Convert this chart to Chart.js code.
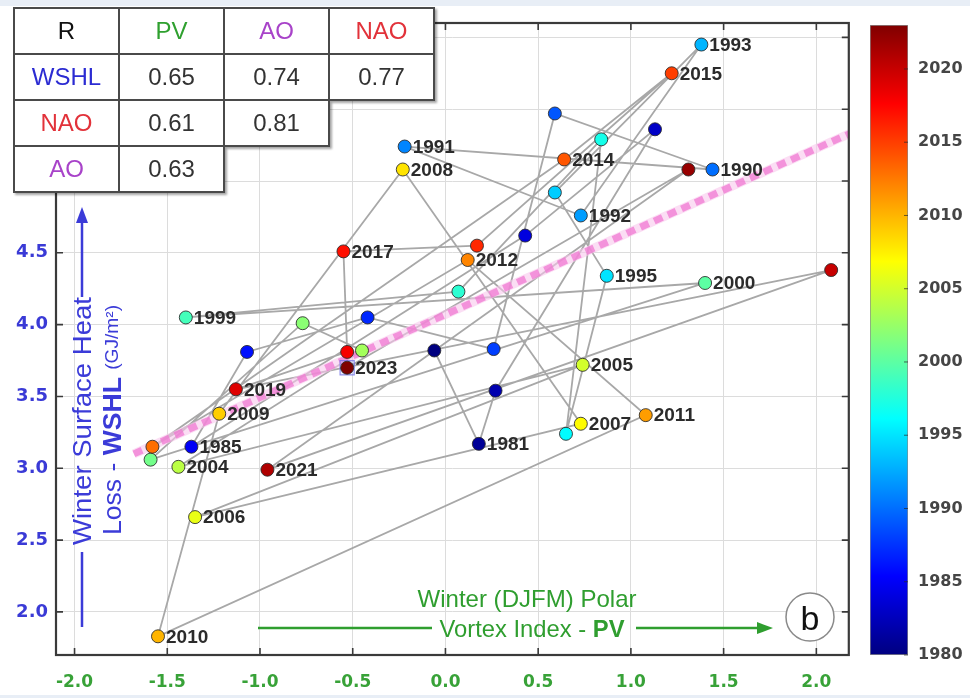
<!DOCTYPE html>
<html lang="en">
<head>
<meta charset="UTF-8">
<title>Winter Surface Heat Loss vs Polar Vortex Index</title>
<script src="https://cdn.jsdelivr.net/npm/chart.js@4.4.1/dist/chart.umd.min.js"></script>
<style>
    html, body { margin: 0; padding: 0; }
    body {
        width: 970px; height: 698px; position: relative; overflow: hidden;
        background: #e8eef6;
        font-family: "Liberation Sans", Arial, sans-serif;
    }
    #sheet { position: absolute; left: 0; top: 6px; width: 970px; height: 689px; background: #fff; }
    #mainWrap { position: absolute; left: 0; top: 0; width: 860px; height: 698px; }
    #barWrap { position: absolute; left: 860px; top: 0; width: 110px; height: 698px; }
    #overlay { position: absolute; left: 0; top: 0; pointer-events: none; }

    /* correlation table, staircase shaped */
    .rtab {
        position: absolute; left: 13px; top: 7px;
        border-collapse: collapse;
        filter: drop-shadow(2px 2px 1px rgba(0,0,0,0.35));
    }
    .rtab td {
        width: 103px; height: 44px; padding: 0;
        text-align: center; font-size: 24px; color: #333;
    }
    .rtab td.c { background: #fff; border: 2px solid #4a4a4a; }
    .rtab td.e { background: transparent; border: none; }
    .k-r { color: #111 !important; }
    .k-pv { color: #2fa02f !important; }
    .k-ao { color: #a843c9 !important; }
    .k-nao { color: #e2323a !important; }
    .k-wshl { color: #2b2bd2 !important; }
</style>
</head>
<body>
    <div id="sheet"></div>
    <div id="mainWrap"><canvas id="mainChart" width="860" height="698"></canvas></div>
    <div id="barWrap"><canvas id="barChart" width="110" height="698"></canvas></div>

    <svg id="overlay" width="860" height="698">
        <!-- y axis title, drawn inside the frame -->
        <g fill="#3b3bd8" stroke="#3b3bd8" font-family="Liberation Sans Narrow, Liberation Sans, Arial, sans-serif">
            <line x1="82" y1="627" x2="82" y2="552" stroke-width="2.5"/>
            <line x1="82" y1="297" x2="82" y2="220" stroke-width="2.5"/>
            <polygon points="82,207 76,223 88,223" stroke="none"/>
            <text stroke="none" transform="translate(82,421) rotate(-90)" text-anchor="middle" dominant-baseline="central"
                  font-size="25" textLength="248" lengthAdjust="spacingAndGlyphs">Winter Surface Heat</text>
            <text stroke="none" transform="translate(112,420) rotate(-90)" text-anchor="middle" dominant-baseline="central"
                  font-size="25" textLength="230" lengthAdjust="spacingAndGlyphs">Loss - <tspan font-weight="bold">WSHL</tspan> <tspan font-size="18">(GJ/m²)</tspan></text>
        </g>
        <!-- x axis title -->
        <g fill="#2f9e2f" stroke="#2f9e2f" font-family="Liberation Sans Narrow, Liberation Sans, Arial, sans-serif">
            <text stroke="none" x="527" y="598" text-anchor="middle" dominant-baseline="central"
                  font-size="24" textLength="219" lengthAdjust="spacingAndGlyphs">Winter (DJFM) Polar</text>
            <line x1="258" y1="628" x2="432" y2="628" stroke-width="2.5"/>
            <text stroke="none" x="532" y="628" text-anchor="middle" dominant-baseline="central"
                  font-size="24" textLength="185" lengthAdjust="spacingAndGlyphs">Vortex Index - <tspan font-weight="bold">PV</tspan></text>
            <line x1="636" y1="628" x2="760" y2="628" stroke-width="2.5"/>
            <polygon points="773,628 757,622 757,634" stroke="none"/>
        </g>
        <!-- panel letter -->
        <circle cx="810" cy="617" r="24" fill="#fff" stroke="#8a8a8a" stroke-width="1.5"/>
        <text x="810" y="618" text-anchor="middle" dominant-baseline="central" font-size="34" fill="#111"
              font-family="Liberation Sans, Arial, sans-serif">b</text>
    </svg>

    <table class="rtab">
        <tr><td class="c k-r">R</td><td class="c k-pv">PV</td><td class="c k-ao">AO</td><td class="c k-nao">NAO</td></tr>
        <tr><td class="c k-wshl">WSHL</td><td class="c">0.65</td><td class="c">0.74</td><td class="c">0.77</td></tr>
        <tr><td class="c k-nao">NAO</td><td class="c">0.61</td><td class="c">0.81</td><td class="e"></td></tr>
        <tr><td class="c k-ao">AO</td><td class="c">0.63</td><td class="e"></td><td class="e"></td></tr>
    </table>

<script>
// winters 1980-2023
const years = [1980, 1981, 1982, 1983, 1984, 1985, 1986, 1987, 1988, 1989,
               1990, 1991, 1992, 1993, 1994, 1995, 1996, 1997, 1998, 1999,
               2000, 2001, 2002, 2003, 2004, 2005, 2006, 2007, 2008, 2009,
               2010, 2011, 2012, 2013, 2014, 2015, 2016, 2017, 2018, 2019,
               2020, 2021, 2022, 2023];
// polar vortex index (x)
const pvIndex = [-0.06, 0.18, 0.27, 1.13, 0.43, -1.37, -1.07, -0.42, 0.26, 0.59,
                 1.44, -0.22, 0.73, 1.38, 0.59, 0.87, 0.65, 0.84, 0.07, -1.40,
                 1.40, -1.59, -0.77, -0.45, -1.44, 0.74, -1.35, 0.73, -0.23, -1.22,
                 -1.55, 1.08, 0.12, -1.58, 0.64, 1.22, 0.17, -0.55, -0.53, -1.13,
                 2.08, -0.96, 1.31, -0.53];
// winter surface heat loss, GJ/m2 (y)
const wshl = [3.82, 3.17, 3.54, 5.36, 4.62, 3.15, 3.81, 4.05, 3.83, 5.47,
              5.08, 5.24, 4.76, 5.95, 4.92, 4.34, 3.24, 5.29, 4.23, 4.05,
              4.29, 3.06, 4.01, 3.82, 3.01, 3.72, 2.66, 3.31, 5.08, 3.38,
              1.83, 3.37, 4.45, 3.15, 5.15, 5.75, 4.55, 4.51, 3.81, 3.55,
              4.38, 2.99, 5.08, 3.70];
const labelledYears = [1981, 1985, 1990, 1991, 1992, 1993, 1995, 1999, 2000, 2004,
                       2005, 2006, 2007, 2008, 2009, 2010, 2011, 2012, 2014, 2015,
                       2017, 2019, 2021, 2023];
const highlightYear = 2023;

const xTicks = [-2.0, -1.5, -1.0, -0.5, 0.0, 0.5, 1.0, 1.5, 2.0];
const yTicks = [2.0, 2.5, 3.0, 3.5, 4.0, 4.5, 5.0, 5.5, 6.0];
const barTicks = [1980, 1985, 1990, 1995, 2000, 2005, 2010, 2015, 2020];

// regression line end points
const fitX = [-1.68, 2.18];
const fitY = [3.10, 5.33];

const yearMin = 1980, yearMax = 2023;

// MATLAB style jet colormap
function jet(t) {
    const c = v => Math.round(255 * Math.max(0, Math.min(1, v)));
    const r = c(1.5 - Math.abs(4 * t - 3));
    const g = c(1.5 - Math.abs(4 * t - 2));
    const b = c(1.5 - Math.abs(4 * t - 1));
    return `rgb(${r},${g},${b})`;
}
const yearColour = yr => jet((yr - yearMin) / (yearMax - yearMin));

const points = years.map((yr, i) => ({ x: pvIndex[i], y: wshl[i] }));
const hi = years.indexOf(highlightYear);

// frame, inward tick marks and year labels
const decorPlugin = {
    id: 'decor',
    afterDatasetsDraw(chart) {
        const { ctx, chartArea: a, scales: { x, y } } = chart;
        ctx.save();
        ctx.strokeStyle = '#3a3a3a';
        ctx.lineWidth = 1.6;
        ctx.beginPath();
        xTicks.forEach(v => {
            const px = x.getPixelForValue(v);
            ctx.moveTo(px, a.bottom); ctx.lineTo(px, a.bottom - 7);
            ctx.moveTo(px, a.top); ctx.lineTo(px, a.top + 7);
        });
        yTicks.forEach(v => {
            const py = y.getPixelForValue(v);
            ctx.moveTo(a.left, py); ctx.lineTo(a.left + 7, py);
            ctx.moveTo(a.right, py); ctx.lineTo(a.right - 7, py);
        });
        ctx.stroke();
        ctx.lineWidth = 2.2;
        ctx.strokeRect(a.left, a.top, a.width, a.height);

        ctx.fillStyle = '#2b2b2b';
        ctx.font = 'bold 19px "Liberation Sans", Arial, sans-serif';
        ctx.textBaseline = 'middle';
        labelledYears.forEach(yr => {
            const i = years.indexOf(yr);
            const px = x.getPixelForValue(pvIndex[i]);
            const py = y.getPixelForValue(wshl[i]);
            ctx.fillText(String(yr), px + 8, py + 1);
        });
        ctx.restore();
    }
};

new Chart(document.getElementById('mainChart'), {
    type: 'scatter',
    data: {
        datasets: [
            {
                type: 'scatter',
                data: points,
                pointRadius: 6.5,
                pointBackgroundColor: years.map(yearColour),
                pointBorderColor: 'rgba(40,40,40,0.85)',
                pointBorderWidth: 1,
                order: 0
            },
            {
                type: 'scatter',
                data: [points[hi]],
                pointStyle: 'rect',
                pointRadius: 10,
                pointBackgroundColor: 'rgba(190,190,250,0.35)',
                pointBorderColor: 'rgba(110,110,230,0.75)',
                pointBorderWidth: 1.2,
                order: 1
            },
            {
                type: 'line',
                showLine: true,
                data: fitX.map((v, i) => ({ x: v, y: fitY[i] })),
                borderColor: 'rgba(240,120,210,0.75)',
                borderWidth: 7,
                borderDash: [9, 6],
                pointRadius: 0,
                order: 2
            },
            {
                type: 'line',
                showLine: true,
                data: fitX.map((v, i) => ({ x: v, y: fitY[i] })),
                borderColor: 'rgba(248,200,236,0.6)',
                borderWidth: 9,
                pointRadius: 0,
                order: 3
            },
            {
                type: 'line',
                showLine: true,
                data: points,
                borderColor: '#a8a8a8',
                borderWidth: 1.8,
                pointRadius: 0,
                tension: 0,
                order: 4
            }
        ]
    },
    options: {
        responsive: false,
        animation: false,
        layout: { padding: { top: 23, right: 9, left: 0, bottom: 0 } },
        plugins: { legend: { display: false }, tooltip: { enabled: false } },
        scales: {
            x: {
                type: 'linear',
                min: -2.1,
                max: 2.175,
                afterBuildTicks: s => { s.ticks = xTicks.map(v => ({ value: v })); },
                afterFit: s => { s.height = 43; },
                grid: { color: '#dcdcdc', lineWidth: 1, drawTicks: false },
                border: { display: false },
                ticks: {
                    padding: 17,
                    color: '#38a238',
                    font: { family: 'DejaVu Sans', weight: 'bold', size: 17 },
                    callback: v => v.toFixed(1)
                }
            },
            y: {
                type: 'linear',
                min: 1.7,
                max: 6.1,
                afterBuildTicks: s => { s.ticks = yTicks.map(v => ({ value: v })); },
                afterFit: s => { s.width = 56; },
                grid: { color: '#dcdcdc', lineWidth: 1, drawTicks: false },
                border: { display: false },
                ticks: {
                    padding: 8,
                    color: '#3a3ad6',
                    font: { family: 'DejaVu Sans', weight: 'bold', size: 18 },
                    callback: v => v.toFixed(1)
                }
            }
        }
    },
    plugins: [decorPlugin]
});

// colour bar for the years
const barTickPlugin = {
    id: 'barTicks',
    afterDatasetsDraw(chart) {
        const { ctx, chartArea: a, scales: { y } } = chart;
        ctx.save();
        ctx.strokeStyle = 'rgba(40,40,40,0.7)';
        ctx.lineWidth = 1;
        ctx.beginPath();
        barTicks.forEach(v => {
            const py = y.getPixelForValue(v);
            ctx.moveTo(a.right, py); ctx.lineTo(a.right - 4, py);
        });
        ctx.stroke();
        ctx.restore();
    }
};

new Chart(document.getElementById('barChart'), {
    type: 'bar',
    data: {
        labels: ['year'],
        datasets: [{
            data: [[yearMin, yearMax]],
            backgroundColor: c => {
                const chart = c.chart;
                if (!chart.chartArea) return '#888';
                const sy = chart.scales.y;
                const g = chart.ctx.createLinearGradient(0, sy.getPixelForValue(yearMin), 0, sy.getPixelForValue(yearMax));
                for (let k = 0; k <= 40; k++) g.addColorStop(k / 40, jet(k / 40));
                return g;
            },
            borderColor: 'rgba(60,60,60,0.6)',
            borderWidth: 1,
            borderSkipped: false,
            barPercentage: 1,
            categoryPercentage: 1
        }]
    },
    options: {
        responsive: false,
        animation: false,
        layout: { padding: { left: 10, top: 25, bottom: 43, right: 0 } },
        plugins: { legend: { display: false }, tooltip: { enabled: false } },
        scales: {
            x: { display: false },
            y: {
                position: 'right',
                min: yearMin,
                max: yearMax,
                afterBuildTicks: s => { s.ticks = barTicks.map(v => ({ value: v })); },
                afterFit: s => { s.width = 62; },
                grid: { display: false, drawTicks: false },
                border: { display: false },
                ticks: {
                    padding: 10,
                    color: '#454545',
                    font: { family: 'DejaVu Sans', weight: 'bold', size: 16 },
                    callback: v => String(v)
                }
            }
        }
    },
    plugins: [barTickPlugin]
});
</script>
</body>
</html>
